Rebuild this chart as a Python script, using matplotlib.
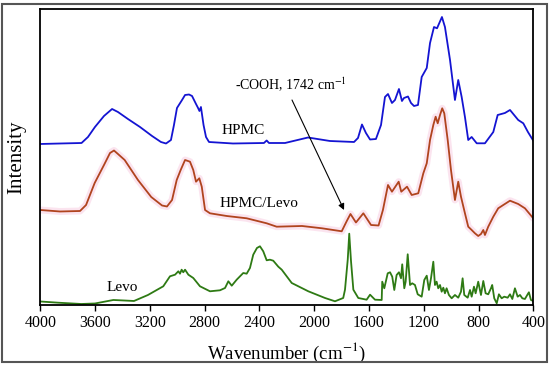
"""FTIR spectra of HPMC, HPMC/Levo and Levo"""

import matplotlib

matplotlib.use("Agg")
import matplotlib.pyplot as plt
from matplotlib.patches import Rectangle

plt.rcParams["font.family"] = ["Liberation Serif", "DejaVu Serif"]
plt.rcParams["mathtext.fontset"] = "stix"

# stacked (offset) intensities, arbitrary units
hpmc_wn = [4000, 3856, 3699, 3652, 3601, 3535, 3476, 3433, 3360, 3272, 3184, 3119,
           3082, 3046, 3024, 3002, 2965, 2943, 2914, 2892, 2863, 2848, 2838, 2827,
           2808, 2790, 2768, 2593, 2367, 2347, 2330, 2213, 2045, 1885, 1709, 1680,
           1651, 1622, 1592, 1549, 1512, 1483, 1461, 1432, 1410, 1381, 1359, 1344,
           1315, 1293, 1271, 1242, 1215, 1178, 1154, 1125, 1103, 1067, 1045, 1008,
           972, 948, 923, 899, 875, 850, 813, 753, 692, 660, 607, 570, 510, 473,
           439, 400]
hpmc_int = [161, 161.5, 162, 168, 178, 189, 196, 193, 186, 178, 169, 163,
            161.5, 165, 180, 197, 205, 210, 210.5, 209, 201, 197, 194, 198,
            180, 168, 163, 161.5, 162, 164.5, 162, 162, 167.5, 164, 163, 167,
            180.5, 172, 165.5, 166, 180, 208, 211, 202, 205, 216, 204, 207,
            208.5, 202, 199, 200, 228, 237, 262, 278, 276.7, 288, 278, 245,
            205, 225, 208, 188, 165, 168, 161.7, 161.7, 173, 190, 192, 195, 185, 181.7,
            173, 164.3]

blend_wn = [4000, 3856, 3710, 3666, 3603, 3535, 3491, 3462, 3433, 3384, 3287, 3190,
            3111, 3075, 3038, 3004, 2975, 2943, 2907, 2883, 2863, 2839, 2821, 2797,
            2761, 2639, 2493, 2347, 2274, 2089, 1943, 1799, 1763, 1735, 1695, 1641,
            1585, 1530, 1498, 1461, 1432, 1383, 1364, 1322, 1288, 1240, 1203, 1178,
            1154, 1130, 1113, 1098, 1081, 1065, 1050, 1025, 1001, 972, 948, 928,
            899, 875, 850, 826, 802, 782, 765, 753, 729, 692, 656, 619, 570, 510,
            461, 400]
blend_int = [95, 93.5, 94, 100, 122, 140, 152, 154.5, 151, 145, 125, 108,
             99.5, 98.5, 105, 125, 135, 145, 143.3, 135, 123.3, 126.7, 118.3, 95,
             91.7, 89, 86.7, 81.7, 78.3, 79, 76.7, 73.7, 83.7, 91, 82.5, 91.7,
             80, 79.5, 95, 120, 113.3, 123.3, 113.3, 118.3, 110, 111.7, 131.7, 141.7,
             165, 180, 188.3, 181.7, 190, 196.7, 191.7, 165, 135, 105, 123.3, 108.3,
             91.7, 78.3, 75, 71.7, 69, 71, 75, 70, 78.3, 88.3, 96.7, 100, 104.3, 101,
             96.7, 86.7]

levo_wn = [4000, 3871, 3701, 3601, 3467, 3389, 3316, 3214, 3102, 3053, 3016, 2992,
           2980, 2968, 2956, 2943, 2919, 2883, 2834, 2761, 2688, 2651, 2627, 2602,
           2566, 2518, 2493, 2469, 2445, 2418, 2396, 2372, 2347, 2323, 2299, 2262,
           2237, 2164, 2043, 1921, 1848, 1788, 1775, 1755, 1744, 1731, 1714, 1678,
           1617, 1592, 1556, 1507, 1503, 1488, 1463, 1446, 1430, 1415, 1398, 1381,
           1366, 1357, 1342, 1332, 1317, 1300, 1284, 1264, 1244, 1215, 1196, 1178,
           1162, 1147, 1130, 1118, 1106, 1094, 1081, 1069, 1057, 1045, 1033, 1016,
           996, 972, 948, 928, 916, 904, 879, 862, 850, 833, 821, 802, 782, 765,
           748, 729, 709, 700, 685, 667, 651, 631, 612, 587, 570, 553, 534, 514,
           497, 480, 461, 441, 432, 417, 400]
levo_int = [3.5, 2.3, 1, 1.5, 5, 4.5, 4, 10, 18.7, 28.7, 30.3, 33.7,
            31.3, 35.3, 32.7, 35.3, 30.3, 27, 18.7, 13.7, 14.7, 17, 23.7, 19.3,
            25.3, 32, 31.3, 37, 50.3, 57, 58.7, 53.7, 44.7, 45.3, 44.3, 38.3,
            35.3, 22, 13.7, 7, 3.7, 7, 15.3, 45.3, 71.3, 43.7, 15.3, 7,
            5.3, 10.3, 5.3, 5, 23.3, 16.7, 31.7, 32.7, 28.3, 15, 30, 32.7,
            26.7, 40.7, 16.7, 23.3, 50.7, 20, 21.7, 20, 10.7, 8.3, 25, 29.3,
            15, 26.7, 43.3, 20, 23.3, 16.7, 20, 13.3, 17.3, 11.7, 16.7, 10,
            6.7, 10, 7.3, 13.3, 26.7, 10, 7.3, 15, 8.3, 18.3, 11.7, 23.3, 10, 24,
            11.7, 10.7, 16.7, 20, 6.7, 1.7, 10.7, 6.7, 8.3, 7.3, 10.7, 6, 16.7, 8.3,
            10, 6.7, 6, 10.7, 12.7, 5, 4]

xticks = [4000, 3600, 3200, 2800, 2400, 2000, 1600, 1200, 800, 400]

fig = plt.figure(figsize=(5.5, 3.66), dpi=100)
ax = fig.add_axes([0.0733, 0.1667, 0.8963, 0.8087])

# faint halo the scanned figure has around the blend curve
ax.plot(blend_wn, blend_int, color="#fbe4ef", lw=5, solid_capstyle="round")
ax.plot(hpmc_wn, hpmc_int, color="#1414d2", lw=1.3)
ax.plot(blend_wn, blend_int, color="#b0441e", lw=1.3)
ax.plot(levo_wn, levo_int, color="#2e7a14", lw=1.3)

ax.set_xlim(4000, 400)
ax.set_ylim(0, 296)
ax.set_xticks(xticks)
ax.set_yticks([])
ax.tick_params(axis="x", direction="out", length=4, width=1, labelsize=11.5, pad=3)
for s in ax.spines.values():
    s.set_linewidth(1.3)

ax.set_xlabel("Wavenumber (cm$^{-1}$)", fontsize=13.5, labelpad=7)
ax.set_ylabel("Intensity", fontsize=15, labelpad=10)

ax.text(2673, 174, "HPMC", fontsize=11, va="center")
ax.text(2688, 101, "HPMC/Levo", fontsize=11, va="center")
ax.text(3513, 17, "Levo", fontsize=11, va="center")
ax.text(2578, 220, "-COOH, 1742 cm$^{-1}$", fontsize=10, va="center")
ax.annotate("", xy=(1782, 95), xytext=(2162, 205),
            arrowprops=dict(arrowstyle="-|>", color="black", lw=0.8,
                            mutation_scale=9, shrinkA=0, shrinkB=0))

# thin frame around the whole picture
fig.patches.append(Rectangle((0.004, 0.011), 0.991, 0.979, transform=fig.transFigure,
                             fill=False, edgecolor="#555555", lw=1.5))

fig.savefig("out.png", dpi=100)
